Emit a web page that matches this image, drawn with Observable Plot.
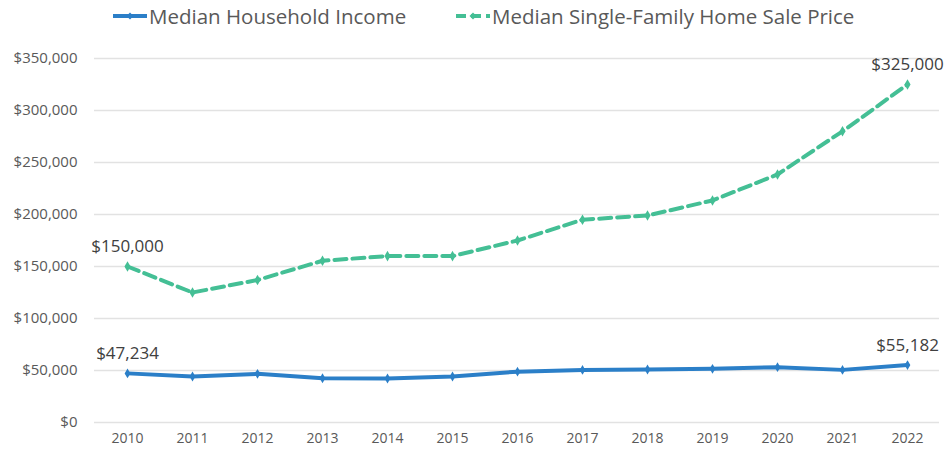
<!DOCTYPE html>
<html><head><meta charset="utf-8">
<script src="https://cdn.jsdelivr.net/npm/d3@7"></script>
<script src="https://cdn.jsdelivr.net/npm/@observablehq/plot@0.6"></script>
<style>
body{margin:0;background:#fff;font-family:"Open Sans",sans-serif;}
#legend{position:relative;height:34px;width:947px;}
.item{position:absolute;top:-1px;height:34px;display:flex;align-items:center;color:#595959;font-size:20.5px;white-space:nowrap;}
.item svg{margin-right:1px;}
</style></head>
<body>
<div id="legend"></div>
<div id="chart"></div>
<script>
const years = ["2010","2011","2012","2013","2014","2015","2016","2017","2018","2019","2020","2021","2022"];
const income = [47234,44200,46800,42600,42300,44200,48900,50600,51000,51600,53200,50600,55182];
const homePrice = [150000,125000,137000,155500,160000,160000,175000,195000,199000,213500,238500,280000,325000];
const seriesNames = ["Median Household Income","Median Single-Family Home Sale Price"];
const colors = ["#2b7fc8","#44bf95"];
const yTicks = [0,50000,100000,150000,200000,250000,300000,350000];

const data = [];
years.forEach((y,i)=>{
  data.push({year:y, value:income[i], series:seriesNames[0]});
  data.push({year:y, value:homePrice[i], series:seriesNames[1]});
});
const incomeData = data.filter(d=>d.series===seriesNames[0]);
const priceData = data.filter(d=>d.series===seriesNames[1]);
const labelData = data.filter(d=>d.year===years[0]||d.year===years[years.length-1]);
const fmt = d3.format(",");

// legend
const legend = document.getElementById("legend");
const legendPos = [112, 455];
seriesNames.forEach((name,i)=>{
  const div = document.createElement("div");
  div.className = "item";
  div.style.left = legendPos[i]+"px";
  const dash = i===1 ? 'stroke-dasharray="10,5"' : '';
  div.innerHTML = `<svg width="36" height="10"><line x1="1" y1="5" x2="35" y2="5" stroke="${colors[i]}" stroke-width="4" ${dash}/><path d="M18,1.5L21.5,5L18,8.5L14.5,5Z" fill="${colors[i]}"/></svg><span>${name}</span>`;
  legend.appendChild(div);
});

const chart = Plot.plot({
  width: 947,
  height: 417,
  marginLeft: 94,
  marginRight: 8,
  marginTop: 24,
  marginBottom: 29,
  style: {fontFamily: '"Open Sans", sans-serif', color: "#595959", background: "#fff"},
  x: {type: "point", domain: years, padding: 0.5, label: null},
  y: {domain: [0, 350000], label: null},
  marks: [
    Plot.ruleY(yTicks, {stroke: "#e2e2e2", strokeWidth: 1.5}),
    Plot.axisX({tickSize: 0, tickPadding: 11, fontSize: 14, label: null}),
    Plot.axisY({ticks: yTicks, tickSize: 0, tickPadding: 17, fontSize: 15, label: null, tickFormat: d => "$" + fmt(d)}),
    Plot.line(priceData, {x: "year", y: "value", stroke: colors[1], strokeWidth: 4, strokeDasharray: "12,6"}),
    Plot.line(incomeData, {x: "year", y: "value", stroke: colors[0], strokeWidth: 4}),
    Plot.dot(priceData, {x: "year", y: "value", symbol: "diamond", r: 3.2, fill: colors[1]}),
    Plot.dot(incomeData, {x: "year", y: "value", symbol: "diamond", r: 3, fill: colors[0]}),
    Plot.text(labelData, {x: "year", y: "value", text: d => "$" + fmt(d.value), dy: -20, fontSize: 17, fill: "#404040"})
  ]
});
document.getElementById("chart").appendChild(chart);
</script>
</body></html>
